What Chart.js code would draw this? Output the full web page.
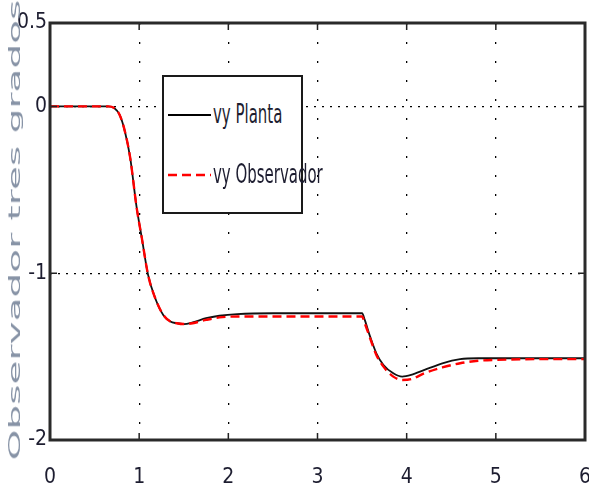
<!DOCTYPE html>
<html>
<head>
<meta charset="utf-8">
<script src="https://cdn.jsdelivr.net/npm/chart.js@4"></script>
<style>
  html, body { margin: 0; padding: 0; background: #fff; }
  #wrap { position: relative; width: 589px; height: 493px; overflow: hidden; }
  #c { position: absolute; left: 0; top: 0; }
  #ytitle {
    position: absolute; left: 15px; top: 230px; white-space: nowrap;
    font-family: "DejaVu Sans", sans-serif; font-size: 15px; color: #8793a6;
    transform: translate(-50%, -50%) rotate(-90deg) scaleX(2.6);
  }
  #legend {
    position: absolute; left: 162px; top: 75px; width: 137px; height: 135px;
    border: 2.5px solid #1a1a1a; background: #fff;
  }
  .lrow { position: absolute; left: 0; height: 30px; width: 140px; }
  .lrow svg { position: absolute; left: 4px; top: 14px; }
  .lrow span {
    position: absolute; left: 49px; top: 0; white-space: nowrap;
    font-family: "Liberation Sans Narrow", "DejaVu Sans Condensed", sans-serif;
    font-size: 26px; color: #1d1d30; transform: scaleX(0.64); transform-origin: left center;
    line-height: 30px;
  }
</style>
</head>
<body>
<div id="wrap">
  <canvas id="c" width="589" height="493"></canvas>
  <div id="ytitle">Observador tres grados</div>
  <div id="legend">
    <div class="lrow" style="top:22px">
      <svg width="44" height="4"><line x1="0" y1="2" x2="43" y2="2" stroke="#000" stroke-width="2.2"/></svg>
      <span>vy Planta</span>
    </div>
    <div class="lrow" style="top:82px">
      <svg width="44" height="4"><line x1="0" y1="2" x2="43" y2="2" stroke="#ff0000" stroke-width="2.6" stroke-dasharray="9,5"/></svg>
      <span>vy Observador</span>
    </div>
  </div>
</div>
<script>
// ---- data ----
const timeVals = [0, 0.5, 0.65, 0.72, 0.78, 0.84, 0.9, 0.97, 1.03, 1.1, 1.18, 1.27, 1.35, 1.42, 1.5, 1.6, 1.75, 1.9, 2.1, 2.5, 3.0, 3.5, 3.53, 3.59, 3.66, 3.74, 3.85, 3.95, 4.05, 4.2, 4.4, 4.6, 4.8, 5.0, 5.5, 6.0];
const plantaVals = [0, 0, 0, -0.01, -0.05, -0.15, -0.31, -0.60, -0.79, -1.01, -1.15, -1.25, -1.29, -1.30, -1.305, -1.295, -1.27, -1.255, -1.245, -1.24, -1.24, -1.24, -1.28, -1.38, -1.48, -1.55, -1.60, -1.62, -1.61, -1.58, -1.54, -1.515, -1.51, -1.51, -1.51, -1.51];
const observadorVals = [0, 0, 0, -0.01, -0.05, -0.15, -0.31, -0.60, -0.79, -1.01, -1.15, -1.25, -1.29, -1.30, -1.305, -1.30, -1.28, -1.265, -1.26, -1.26, -1.26, -1.26, -1.30, -1.39, -1.49, -1.56, -1.62, -1.64, -1.635, -1.60, -1.565, -1.54, -1.525, -1.52, -1.515, -1.515];
const xTickVals = [0, 1, 2, 3, 4, 5, 6];
const yTickVals = [-2, -1, 0, 0.5];
const yTickLabels = ["-2", "-1", "0", "0.5"];
const seriesNames = ["vy Planta", "vy Observador"];

const tickFont = { family: "'Liberation Sans Narrow', 'DejaVu Sans Condensed', sans-serif", size: 21 };

const framePlugin = {
  id: 'frame',
  afterDatasetsDraw(chart) {
    const { ctx, chartArea: a, scales } = chart;
    ctx.save();
    ctx.strokeStyle = '#222';
    ctx.lineWidth = 1.5;
    const L = 7;
    ctx.beginPath();
    xTickVals.forEach(v => {
      const px = scales.x.getPixelForValue(v);
      ctx.moveTo(px, a.bottom); ctx.lineTo(px, a.bottom - L);
      ctx.moveTo(px, a.top); ctx.lineTo(px, a.top + L);
    });
    yTickVals.forEach(v => {
      const py = scales.y.getPixelForValue(v);
      ctx.moveTo(a.left, py); ctx.lineTo(a.left + L, py);
      ctx.moveTo(a.right, py); ctx.lineTo(a.right - L, py);
    });
    ctx.stroke();
    ctx.lineWidth = 3;
    ctx.strokeStyle = '#2a2a2a';
    ctx.strokeRect(a.left, a.top, a.right - a.left, a.bottom - a.top);
    ctx.restore();
  }
};

new Chart(document.getElementById('c'), {
  type: 'line',
  data: {
    datasets: [
      {
        label: seriesNames[0],
        data: timeVals.map((t, i) => ({ x: t, y: plantaVals[i] })),
        borderColor: '#111',
        borderWidth: 1.8,
        pointRadius: 0,
        cubicInterpolationMode: 'monotone',
        order: 2
      },
      {
        label: seriesNames[1],
        data: timeVals.map((t, i) => ({ x: t, y: observadorVals[i] })),
        borderColor: '#ff0000',
        borderWidth: 2.4,
        borderDash: [9, 5],
        pointRadius: 0,
        cubicInterpolationMode: 'monotone',
        order: 1
      }
    ]
  },
  options: {
    responsive: false,
    animation: false,
    devicePixelRatio: 1,
    layout: { padding: { top: 23, right: 4, left: 0, bottom: 0 } },
    plugins: { legend: { display: false }, tooltip: { enabled: false } },
    scales: {
      x: {
        type: 'linear', min: 0, max: 6,
        afterBuildTicks: s => { s.ticks = xTickVals.map(v => ({ value: v })); },
        afterFit: s => { s.height = 53; s.paddingLeft = 0; s.paddingRight = 0; },
        ticks: { font: tickFont, color: '#1d1d30', padding: 25, maxRotation: 0, callback: v => String(v) },
        grid: { color: '#000', lineWidth: 1.3, drawTicks: false },
        border: { display: false, dash: [2, 17] }
      },
      y: {
        type: 'linear', min: -2, max: 0.5,
        afterBuildTicks: s => { s.ticks = yTickVals.map(v => ({ value: v })); },
        afterFit: s => { s.width = 50; },
        ticks: { font: tickFont, color: '#1d1d30', padding: 3,
          callback: v => yTickLabels[yTickVals.indexOf(v)] },
        grid: { color: '#000', lineWidth: 1.3, drawTicks: false },
        border: { display: false, dash: [2, 6] }
      }
    }
  },
  plugins: [framePlugin]
});
</script>
</body>
</html>
